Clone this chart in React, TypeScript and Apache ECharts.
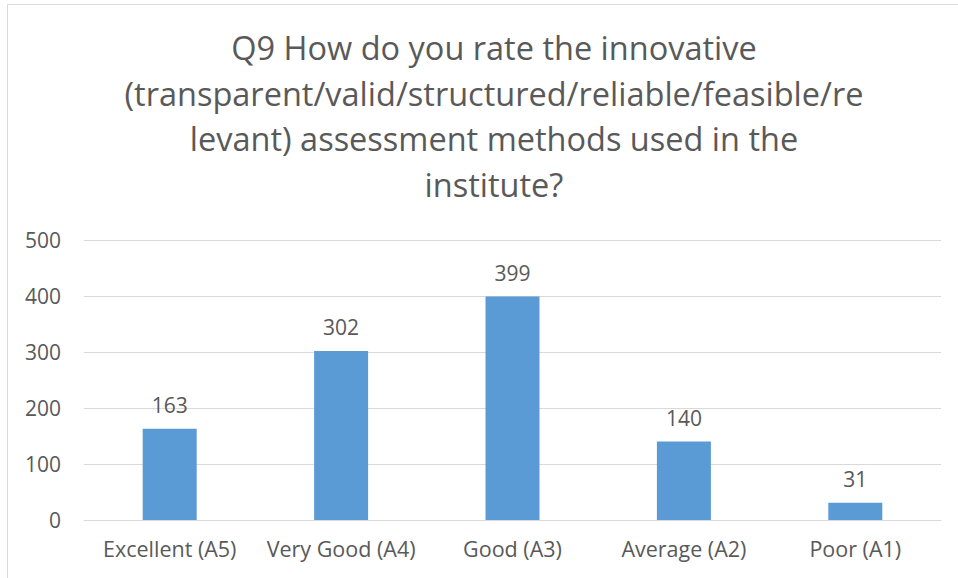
import React, { useEffect, useRef } from "react";
import * as echarts from "echarts";

const categories = ["Excellent (A5)", "Very Good (A4)", "Good (A3)", "Average (A2)", "Poor (A1)"];
const values = [163, 302, 399, 140, 31];
const titleLines = [
  "Q9 How do you rate the innovative",
  "(transparent/valid/structured/reliable/feasible/re",
  "levant) assessment methods used in the",
  "institute?",
];

const FONT = "'Open Sans', 'Noto Sans', sans-serif";
const TEXT = "#595959";

export default function App() {
  const ref = useRef<HTMLDivElement>(null);
  useEffect(() => {
    if (!ref.current) return;
    const chart = echarts.init(ref.current, undefined, { renderer: "svg" });
    chart.setOption({
      animation: false,
      backgroundColor: "#ffffff",
      title: {
        text: titleLines.join("\n"),
        left: 489,
        textAlign: "center",
        top: 20,
        textStyle: {
          fontFamily: FONT,
          fontSize: 32.5,
          fontWeight: "normal",
          color: TEXT,
          lineHeight: 45.5,
        },
      },
      graphic: [
        {
          type: "rect",
          shape: { x: 7.5, y: 4.5, width: 1000, height: 1000 },
          style: { fill: "none", stroke: "#d9d9d9", lineWidth: 1 },
          silent: true,
        },
      ],
      grid: { left: 84, right: 17, top: 240, bottom: 58 },
      xAxis: {
        type: "category",
        data: categories,
        axisTick: { show: false },
        axisLine: { show: true, lineStyle: { color: "#d9d9d9", width: 1 } },
        axisLabel: { color: TEXT, fontFamily: FONT, fontSize: 21.5, margin: 17, interval: 0 },
      },
      yAxis: {
        type: "value",
        min: 0,
        max: 500,
        interval: 100,
        axisLine: { show: false },
        axisTick: { show: false },
        splitLine: { lineStyle: { color: "#d9d9d9", width: 1 } },
        axisLabel: { color: TEXT, fontFamily: FONT, fontSize: 21, margin: 23 },
      },
      series: [
        {
          type: "bar",
          data: values,
          barWidth: "31.5%",
          itemStyle: { color: "#5b9bd5" },
          label: {
            show: true,
            position: "top",
            distance: 13,
            color: TEXT,
            fontFamily: FONT,
            fontSize: 21,
          },
        },
      ],
    });
    return () => chart.dispose();
  }, []);
  return (
    <div
      ref={ref}
      style={{ position: "fixed", left: 0, top: 0, width: 958, height: 578, background: "#fff" }}
    />
  );
}
